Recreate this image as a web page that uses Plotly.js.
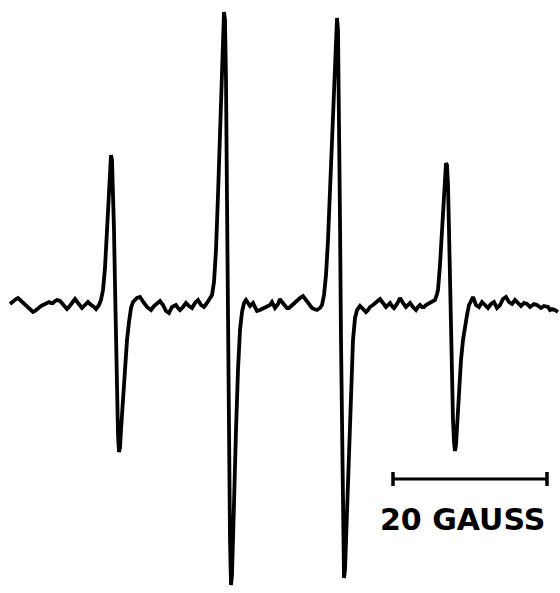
<!DOCTYPE html>
<html>
<head>
<meta charset="utf-8">
<script src="https://cdn.plot.ly/plotly-3.0.1.min.js"></script>
<style>html,body{margin:0;padding:0;background:#fff;}#chart{width:560px;height:593px;}</style>
</head>
<body>
<div id="chart"></div>
<script>
// Field position (arbitrary units, 154 units = 20 G) and EPR signal amplitude (arbitrary units)
const fieldPos = [
  10,12,14,16,18,20,22,24,26,28,30,33,35,37,39,41,43,45,47,49,51,53,55,57,60,62,64,67,69,71,73,75,78,80,82,85,88,90,92,94,96,99,101,
  103,105,107,109,110,111,112,113,114,115,116,117,118,119,120,121,123,125,127,129,131,133,135,
  137,140,142,144,147,149,151,154,157,160,163,166,169,172,174,176,178,180,183,186,189,192,195,198,201,204,207,210,212,
  214,216,218,220,222,223,224,225,226,227,228,229,230,231,232,233,234,236,238,240,242,
  244,246,248,250,253,255,257,260,262,265,267,270,272,275,278,280,282,285,287,289,292,295,297,300,303,306,308,310,312,314,317,320,322,324,
  326,328,330,332,334,335,336,337,338,339,340,341,342,343,344,345,346,347,349,351,353,355,
  357,360,363,366,368,370,373,375,378,380,383,386,388,390,392,394,397,400,403,406,408,410,413,416,418,420,422,424,426,428,430,432,435,437,
  438,440,442,444,445,446,447,448,449,450,451,452,453,454,455,456,457,459,461,463,465,467,469,471,
  473,476,479,482,485,488,491,494,497,500,503,506,509,512,515,518,521,524,527,530,532,534,537,539,541,544,546,548,550,552,555,558
];
const signal = [
  -1,1,2,4,5,3,1,-1,-3,-5,-7,-9,-8,-6,-4,-3,-2,-1,0,1,0,0,2,3,2,0,-2,-6,-4,-1,2,4,0,-2,-5,-2,1,-1,-2,-4,-6,-2,3,
  13,35,73,118,138,148,143,118,73,18,-37,-92,-132,-149,-145,-127,-97,-62,-37,-19,-5,1,3,
  5,6,2,0,-4,-5,-7,-3,0,2,-2,-8,-10,-4,-3,-2,-5,-7,-4,0,-3,-5,0,3,-2,-4,0,4,8,
  21,53,108,168,233,268,291,283,223,103,-27,-147,-237,-282,-272,-237,-192,-127,-67,-27,-9,
  0,3,-1,-3,0,-4,-8,-7,-6,-4,-4,-2,1,-5,-1,4,1,-3,-5,-5,-2,0,2,5,7,3,0,-3,-5,-6,-7,-5,-2,8,
  28,63,113,173,228,258,278,285,273,203,83,-37,-147,-237,-275,-267,-237,-197,-137,-82,-37,-15,
  -7,-3,-6,-9,-7,-4,-2,0,2,4,0,-4,-2,0,-3,-5,-1,5,0,-4,-2,0,-4,-7,-4,-2,-4,-4,-2,-1,0,1,3,9,
  13,38,78,113,131,140,138,118,73,13,-37,-82,-117,-139,-148,-142,-122,-87,-57,-37,-22,-12,-2,3,
  6,-2,-4,1,-2,-5,-1,1,-5,-2,4,6,1,-1,3,0,-3,0,-1,-4,-2,-1,-2,-4,-5,-3,-4,-4,-7,-6,-7,-9
];
// 20 gauss scale bar (same field units) and its label
const barField = [393, 547];
const barLevel = [-176, -176];
const barCapHalf = 7;
const barLabel = "20 GAUSS";
const labelPos = [462, -216];

const traces = [
  {x: fieldPos, y: signal, mode: 'lines', line: {color: '#000', width: 3.8}, hoverinfo: 'skip'},
  {x: barField, y: barLevel, mode: 'lines', line: {color: '#000', width: 3}, hoverinfo: 'skip'},
  {x: [barField[0], barField[0]], y: [barLevel[0] - barCapHalf, barLevel[0] + barCapHalf], mode: 'lines', line: {color: '#000', width: 3.5}, hoverinfo: 'skip'},
  {x: [barField[1], barField[1]], y: [barLevel[1] - barCapHalf, barLevel[1] + barCapHalf], mode: 'lines', line: {color: '#000', width: 3.5}, hoverinfo: 'skip'}
];

const layout = {
  width: 560, height: 593,
  margin: {l: 0, r: 0, t: 0, b: 0},
  paper_bgcolor: '#fff', plot_bgcolor: '#fff',
  showlegend: false,
  xaxis: {range: [0, 560], visible: false, fixedrange: true},
  yaxis: {range: [-290, 303], visible: false, fixedrange: true},
  annotations: [{
    x: labelPos[0], y: labelPos[1], xref: 'x', yref: 'y',
    text: barLabel, showarrow: false,
    font: {family: 'DejaVu Sans', size: 30, color: '#000', weight: 'bold'},
    xanchor: 'center', yanchor: 'middle'
  }]
};

Plotly.newPlot('chart', traces, layout, {staticPlot: true, displayModeBar: false});
</script>
</body>
</html>
